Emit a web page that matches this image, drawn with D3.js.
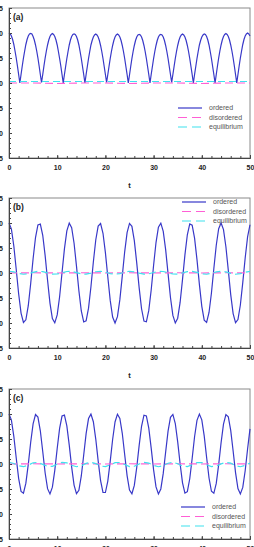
<!DOCTYPE html>
<html>
<head>
<meta charset="utf-8">
<script src="https://cdn.jsdelivr.net/npm/d3@7"></script>
<style>
    body { margin: 0; background: #fff; }
    svg { display: block; font-family: "Liberation Sans", Arial, sans-serif; }
</style>
</head>
<body>
<script>

// Tick values and labels
var xTicks = [0, 10, 20, 30, 40, 50];
var yTicks = [-1.5, -1.0, -0.5, 0.0, 0.5, 1.0, 1.5];
var panelLabels = ["(a)", "(b)", "(c)"];
var seriesNames = ["ordered", "disordered", "equilibrium"];

// Sampling step (in t) of each series, per panel
var orderedStep = [0.25, 0.5, 0.5];
var disorderedStep = [5, 5, 5];
var equilibriumStep = [5, 1, 1];

// Panel (a)
var orderedA = [
    1.00, 0.98, 0.94, 0.87, 0.77, 0.64, 0.50, 0.34, 0.17, 0.00, 0.17, 0.34, 0.50, 0.64, 0.77, 0.87, 0.94, 0.98,
    0.99, 0.98, 0.93, 0.86, 0.76, 0.64, 0.50, 0.34, 0.17, 0.01, 0.17, 0.34, 0.50, 0.64, 0.76, 0.86, 0.93, 0.97,
    0.99, 0.97, 0.93, 0.86, 0.76, 0.63, 0.49, 0.34, 0.17, 0.00, 0.17, 0.33, 0.49, 0.63, 0.76, 0.86, 0.93, 0.97,
    0.98, 0.97, 0.93, 0.86, 0.76, 0.63, 0.49, 0.33, 0.17, 0.00, 0.17, 0.33, 0.49, 0.63, 0.76, 0.85, 0.92, 0.96,
    0.98, 0.96, 0.92, 0.85, 0.75, 0.63, 0.49, 0.33, 0.17, 0.01, 0.17, 0.33, 0.49, 0.63, 0.75, 0.85, 0.92, 0.96,
    0.98, 0.96, 0.92, 0.85, 0.75, 0.63, 0.49, 0.33, 0.17, 0.00, 0.16, 0.33, 0.49, 0.63, 0.75, 0.85, 0.92, 0.96,
    0.97, 0.96, 0.92, 0.85, 0.75, 0.63, 0.49, 0.33, 0.17, 0.00, 0.17, 0.33, 0.49, 0.63, 0.75, 0.85, 0.92, 0.96,
    0.97, 0.96, 0.92, 0.85, 0.75, 0.63, 0.49, 0.33, 0.17, 0.01, 0.17, 0.33, 0.49, 0.63, 0.75, 0.85, 0.92, 0.96,
    0.98, 0.96, 0.92, 0.85, 0.75, 0.63, 0.49, 0.33, 0.17, 0.00, 0.17, 0.33, 0.49, 0.63, 0.76, 0.85, 0.92, 0.96,
    0.98, 0.97, 0.93, 0.86, 0.76, 0.63, 0.49, 0.33, 0.17, 0.00, 0.17, 0.34, 0.50, 0.64, 0.76, 0.86, 0.93, 0.97,
    0.99, 0.97, 0.93, 0.86, 0.76, 0.64, 0.50, 0.34, 0.17, 0.00, 0.17, 0.34, 0.50, 0.64, 0.77, 0.87, 0.94, 0.98,
    1.00, 0.98, 0.94
];
var disorderedA = [0.00, 0.00, -0.01, 0.00, 0.00, -0.01, 0.00, 0.00, -0.01, 0.00, 0.00];
var equilibriumA = [0.03, 0.03, 0.03, 0.03, 0.03, 0.03, 0.03, 0.03, 0.03, 0.03, 0.03];

// Panel (b)
var orderedB = [
    1.000, 0.878, 0.540, 0.071, -0.416, -0.801, -0.990, -0.936, -0.654, -0.211,
    0.284, 0.709, 0.960, 0.977, 0.754, 0.347, -0.146, -0.602, -0.911, -0.997,
    -0.839, -0.476, 0.004, 0.483, 0.844, 0.998, 0.907, 0.595, 0.137, -0.355,
    -0.760, -0.979, -0.958, -0.703, -0.275, 0.220, 0.660, 0.939, 0.989, 0.795,
    0.408, -0.080, -0.548, -0.882, -1.000, -0.873, -0.533, -0.062, 0.424, 0.806,
    0.991, 0.933, 0.647, 0.202, -0.292, -0.715, -0.962, -0.976, -0.748, -0.339,
    0.154, 0.609, 0.915, 0.996, 0.834, 0.468, -0.013, -0.491, -0.849, -0.999,
    -0.904, -0.589, -0.128, 0.363, 0.765, 0.981, 0.955, 0.697, 0.267, -0.228,
    -0.667, -0.942, -0.987, -0.790, -0.400, 0.089, 0.555, 0.886, 1.000, 0.869,
    0.525, 0.053, -0.432, -0.811, -0.992, -0.930, -0.640, -0.193, 0.300, 0.721,
    0.965
];
var disorderedB = [0.00, 0.005, 0.00, 0.005, 0.00, 0.005, 0.00, 0.005, 0.00, 0.005, 0.00];
var equilibriumB = [
    0.035, 0.021, -0.007, -0.025, -0.015, 0.014, 0.034, 0.028, 0.001, -0.022,
    -0.020, 0.005, 0.030, 0.032, 0.009, -0.018, -0.024, -0.003, 0.025, 0.035,
    0.017, -0.011, -0.025, -0.011, 0.018, 0.035, 0.024, -0.004, -0.024, -0.017,
    0.010, 0.032, 0.030, 0.005, -0.020, -0.022, 0.001, 0.028, 0.034, 0.013,
    -0.015, -0.025, -0.007, 0.022, 0.035, 0.021, -0.008, -0.025, -0.014, 0.014,
    0.034
];

// Panel (c)
var orderedC = [
    1.000, 0.879, 0.554, 0.121, -0.287, -0.549, -0.584, -0.383, -0.006, 0.434,
    0.803, 0.990, 0.938, 0.664, 0.250, -0.180, -0.494, -0.599, -0.463, -0.126,
    0.309, 0.711, 0.959, 0.978, 0.762, 0.377, -0.062, -0.422, -0.594, -0.526,
    -0.239, 0.180, 0.606, 0.909, 0.998, 0.846, 0.499, 0.062, -0.334, -0.568,
    -0.570, -0.341, 0.053, 0.490, 0.840, 0.997, 0.913, 0.614, 0.190, -0.231,
    -0.522, -0.595, -0.428, -0.071, 0.367, 0.755, 0.976, 0.962, 0.718, 0.318,
    -0.118, -0.458, -0.599, -0.499, -0.188, 0.240, 0.656, 0.934, 0.991, 0.810,
    0.443, 0.004, -0.376, -0.582, -0.553, -0.295, 0.111, 0.545, 0.874, 1.000,
    0.884, 0.562, 0.130, -0.280, -0.546, -0.586, -0.389, -0.014, 0.425, 0.797,
    0.988, 0.942, 0.671, 0.259, -0.171, -0.490, -0.600, -0.468, -0.135, 0.299,
    0.703
];
var disorderedC = [0.00, 0.005, 0.00, 0.005, 0.00, 0.005, 0.00, 0.005, 0.00, 0.005, 0.00];
var equilibriumC = [
    0.035, 0.010, -0.037, -0.054, -0.022, 0.024, 0.032, -0.007, -0.049, -0.047,
    -0.004, 0.033, 0.022, -0.025, -0.055, -0.035, 0.013, 0.035, 0.007, -0.040,
    -0.053, -0.018, 0.026, 0.030, -0.011, -0.051, -0.045, -0.001, 0.034, 0.019,
    -0.028, -0.055, -0.032, 0.016, 0.035, 0.004, -0.042, -0.052, -0.015, 0.028,
    0.028, -0.014, -0.052, -0.043, 0.003, 0.034, 0.017, -0.031, -0.055, -0.029,
    0.018
];

var ordered = [orderedA, orderedB, orderedC];
var disordered = [disorderedA, disorderedB, disorderedC];
var equilibrium = [equilibriumA, equilibriumB, equilibriumC];

// Layout
var width = 254, height = 547;
var panelTop = [8, 198, 389], panelHeight = 150;
var plotLeft = 9, plotRight = 250;
var legendX = [178, 182, 181], legendY = [100, 4, 118];

var colors = ["#3838c8", "#ff5fd5", "#3fe2ee"];
var dashes = [null, "8,4", "7,4"];

var svg = d3.select("body")
    .append("svg")
        .attr("width", width)
        .attr("height", height);

var x = d3.scaleLinear().domain([0, 50]).range([plotLeft, plotRight]);
var y = d3.scaleLinear().domain([-1.5, 1.5]).range([panelHeight, 0]);

panelLabels.forEach(function(label, i) {

    var g = svg.append("g")
        .attr("transform", "translate(0," + panelTop[i] + ")");

    // Frame
    g.append("rect")
        .attr("x", plotLeft)
        .attr("y", 0)
        .attr("width", plotRight - plotLeft)
        .attr("height", panelHeight)
        .style("fill", "none")
        .style("stroke", "#8a8a8a")
        .style("stroke-width", 1);

    // Series lines
    var series = [
        {values: ordered[i], step: orderedStep[i]},
        {values: disordered[i], step: disorderedStep[i]},
        {values: equilibrium[i], step: equilibriumStep[i]}
    ];

    series.forEach(function(s, k) {
        var line = d3.line()
            .x(function(d, j) { return x(j * s.step); })
            .y(function(d) { return y(d); });

        g.append("path")
            .datum(s.values)
            .attr("d", line)
            .style("fill", "none")
            .style("stroke", colors[k])
            .style("stroke-width", 1.2)
            .style("stroke-dasharray", dashes[k]);
    });

    // Minor ticks
    g.append("g")
        .attr("class", "minor")
        .attr("transform", "translate(0," + panelHeight + ")")
        .call(d3.axisBottom(x).tickValues(d3.range(0, 51, 2)).tickSize(-2).tickFormat(""));

    g.append("g")
        .attr("class", "minor")
        .attr("transform", "translate(" + plotLeft + ",0)")
        .call(d3.axisLeft(y).tickValues(d3.range(-15, 16).map(function(v) { return v / 10; })).tickSize(-2).tickFormat(""));

    // Major axes
    g.append("g")
        .attr("class", "axis")
        .attr("transform", "translate(0," + panelHeight + ")")
        .call(d3.axisBottom(x).tickValues(xTicks).tickSizeInner(-3).tickSizeOuter(0)
            .tickPadding(7.5).tickFormat(d3.format("d")));

    g.append("g")
        .attr("class", "axis")
        .attr("transform", "translate(" + plotLeft + ",0)")
        .call(d3.axisLeft(y).tickValues(yTicks).tickSizeInner(-3).tickSizeOuter(0)
            .tickPadding(6).tickFormat(d3.format(".1f")));

    g.selectAll(".axis path, .minor path, .axis line, .minor line")
        .style("stroke", "#444");
    g.selectAll(".axis text")
        .style("font-size", "7px")
        .style("font-weight", "bold")
        .style("fill", "#222")
        .style("font-family", "'Liberation Sans', Arial, sans-serif");

    // Axis title
    g.append("text")
        .attr("x", (plotLeft + plotRight) / 2)
        .attr("y", panelHeight + 29.5)
        .attr("text-anchor", "middle")
        .style("font-size", "7.5px")
        .style("font-weight", "bold")
        .style("fill", "#222")
        .text("t");

    // Panel label
    g.append("text")
        .attr("x", 13)
        .attr("y", 12)
        .style("font-size", "8.5px")
        .style("font-weight", "bold")
        .style("fill", "#222")
        .text(label);

    // Legend
    var legend = g.append("g")
        .attr("transform", "translate(" + legendX[i] + "," + legendY[i] + ")");

    seriesNames.forEach(function(name, k) {
        legend.append("line")
            .attr("x1", 0)
            .attr("x2", 24)
            .attr("y1", k * 9.5)
            .attr("y2", k * 9.5)
            .style("stroke", colors[k])
            .style("stroke-width", 1.2)
            .style("stroke-dasharray", k ? "9,5" : null);

        legend.append("text")
            .attr("x", 31)
            .attr("y", k * 9.5)
            .attr("dy", "0.35em")
            .style("font-size", "7px")
            .style("fill", "#555")
            .text(name);
    });
});

</script>
</body>
</html>
